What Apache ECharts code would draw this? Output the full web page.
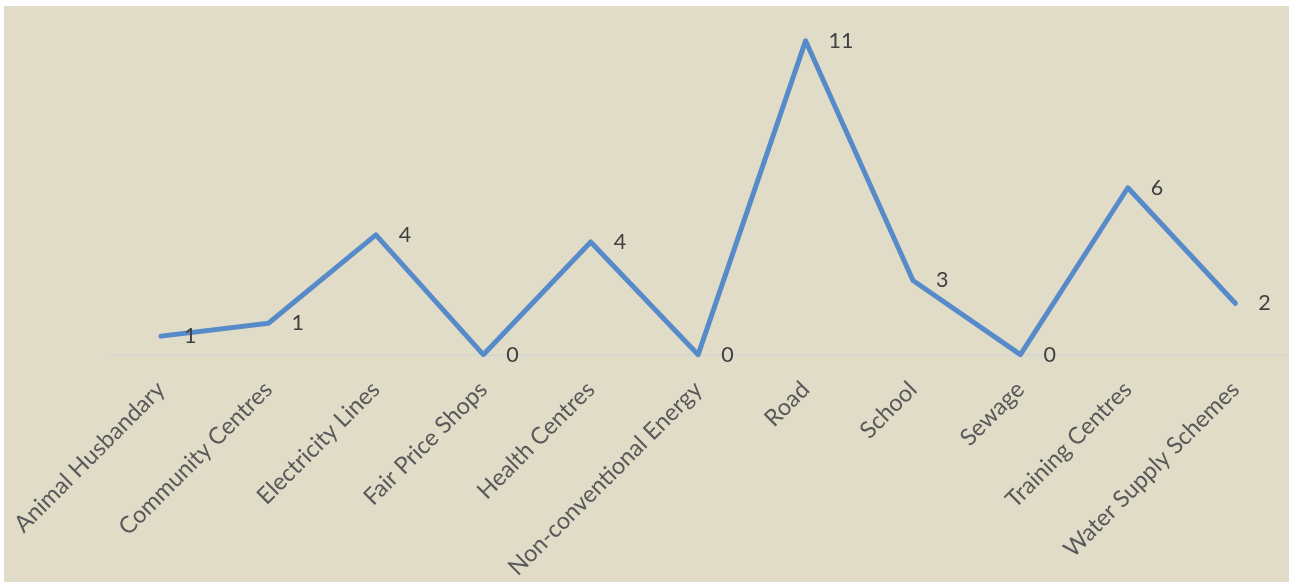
<!DOCTYPE html>
<html>
<head>
<meta charset="utf-8">
<script src="https://cdn.jsdelivr.net/npm/echarts@6/dist/echarts.min.js"></script>
<style>
html,body{margin:0;padding:0;background:#ffffff;width:1290px;height:582px;overflow:hidden;}
#chart{position:absolute;left:4px;top:6px;width:1285px;height:576px;background:#E1DCC8;}
</style>
</head>
<body>
<div id="chart"></div>
<script>
const categories = ["Animal Husbandary","Community Centres","Electricity Lines","Fair Price Shops","Health Centres","Non-conventional Energy","Road","School","Sewage","Training Centres","Water Supply Schemes"];
const values = [0.65, 1.1, 4.2, 0, 3.95, 0, 11, 2.6, 0, 5.85, 1.8];

const chart = echarts.init(document.getElementById('chart'), null, {renderer:'canvas'});
chart.setOption({
  backgroundColor: '#E1DCC8',
  animation: false,
  grid: {left: 103.3, right: 0, top: 6.3, bottom: 225.5, containLabel: false},
  xAxis: {
    type: 'category',
    data: categories,
    boundaryGap: true,
    axisLine: {show: true, lineStyle: {color: '#D8D8D2', width: 2}},
    axisTick: {show: false},
    axisLabel: {rotate: 45, margin: 31, interval: 0, color: '#595959', fontFamily: 'Lato', fontSize: 23.5}
  },
  yAxis: {
    type: 'value', min: 0, max: 12, show: false,
    splitLine: {show: false}
  },
  series: [{
    type: 'line',
    data: values,
    symbol: 'circle',
    symbolSize: 2,
    itemStyle: {color: 'rgba(0,0,0,0)'},
    lineStyle: {color: '#578AC9', width: 5, cap: 'round', join: 'round'},
    label: {
      show: true, position: 'right', distance: 22,
      color: '#404040', fontFamily: 'Lato', fontSize: 21.5,
      formatter: p => String(Math.round(p.value))
    }
  }]
});
</script>
</body>
</html>
